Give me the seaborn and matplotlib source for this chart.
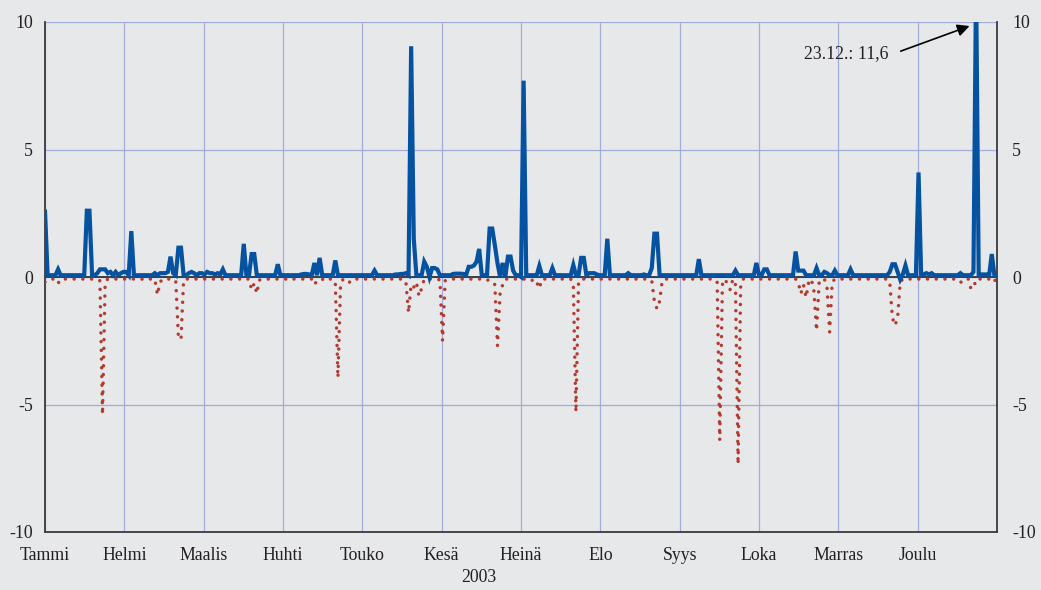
import numpy as np
import pandas as pd
import seaborn as sns
import matplotlib.pyplot as plt

# daily series for 2003 (index 0 = 1 Jan)
n_days = 365
blue_base = 0.07
red_base = -0.08

blue_days = [0, 5, 16, 17, 20, 21, 22, 23, 24, 25, 27, 29, 30, 31, 33, 42, 44, 45, 46, 47, 48, 49,
             51, 52, 55, 56, 57, 59, 60, 61, 62, 63, 64, 65, 66, 67, 68, 76, 79, 80, 89,
             98, 99, 100, 101, 103, 105, 111, 126, 134, 135, 136, 137, 138, 140, 141,
             145, 146, 147, 148, 149, 150, 156, 157, 158, 159, 160, 162, 163, 164, 165, 166,
             170, 171, 172, 173, 174, 175, 176, 177, 178, 179, 182, 183, 189, 194, 202,
             205, 206, 208, 209, 210, 211, 215, 223, 229, 232, 233, 234, 250, 264, 272,
             275, 276, 287, 288, 289, 290, 295, 298, 299, 302, 308, 323, 324, 325, 326,
             327, 328, 329, 334, 336, 337, 338, 339, 350, 355, 356, 358, 359, 360, 362]
blue_vals = [2.6, 0.3, 2.6, 2.6, 0.15, 0.3, 0.3, 0.3, 0.15, 0.2, 0.2, 0.15, 0.2, 0.2, 1.8, 0.15, 0.15, 0.15, 0.15, 0.2, 0.8, 0.15,
             1.15, 1.15, 0.15, 0.2, 0.15, 0.15, 0.15, 0.1, 0.2, 0.15, 0.15, 0.1, 0.15, 0.1, 0.3, 1.3, 0.9, 0.9, 0.5,
             0.1, 0.12, 0.12, 0.1, 0.55, 0.75, 0.65, 0.25, 0.1, 0.1, 0.12, 0.12, 0.15, 9.05, 1.5,
             0.6, 0.4, 0.0, 0.35, 0.35, 0.3, 0.12, 0.13, 0.13, 0.13, 0.12, 0.4, 0.4, 0.45, 0.6, 1.1,
             1.9, 1.9, 1.25, 0.55, 0.0, 0.55, 0.0, 0.8, 0.8, 0.25, 0.0, 7.7, 0.43, 0.35, 0.47,
             0.75, 0.75, 0.15, 0.15, 0.15, 0.1, 1.5, 0.15, 0.1, 0.35, 1.7, 1.7, 0.7, 0.25, 0.55,
             0.3, 0.3, 1.0, 0.25, 0.25, 0.25, 0.35, 0.2, 0.15, 0.25, 0.3, 0.2, 0.5, 0.5, 0.2,
             -0.1, 0.1, 0.45, 4.1, 0.1, 0.15, 0.1, 0.15, 0.15, 0.2, 11.6, 0.1, 0.1, 0.1, 0.9]

red_days = [0, 1, 5, 21, 22, 23, 38, 43, 44, 50, 51, 52, 53, 76, 79, 80, 81, 82, 93, 103, 104,
            107, 111, 112, 113, 116, 117, 138, 139, 140, 141, 142, 143, 144, 151, 152, 153,
            170, 171, 172, 173, 174, 175, 187, 188, 189, 202, 203, 204, 232, 233, 234, 235, 236,
            257, 258, 259, 261, 262, 264, 265, 266, 288, 289, 290, 291, 292, 294, 295, 296,
            299, 300, 301, 323, 324, 325, 326, 327, 350, 351, 354, 355, 362, 363]
red_vals = [-0.2, -0.15, -0.25, -0.15, -5.4, -0.2, -0.12, -0.7, -0.2, -0.15, -2.35, -2.45, -0.12, -0.12, -0.5, -0.25, -0.65, -0.12, -0.12, -0.3, -0.15,
            -0.15, -0.2, -3.95, -0.3, -0.2, -0.2, -0.2, -1.4, -0.3, -0.4, -0.2, -0.75, -0.45, -0.12, -2.5, -0.15,
            -0.2, -0.2, -0.3, -2.7, -0.65, -0.3, -0.25, -0.2, -0.45, -0.3, -5.3, -0.2, -0.15, -0.95, -1.25, -0.95, -0.15,
            -0.2, -6.4, -0.3, -0.3, -0.5, -0.3, -7.35, -0.3, -0.2, -0.65, -0.3, -0.8, -0.2, -0.55, -2.1, -0.2,
            -0.4, -2.15, -0.2, -0.2, -1.6, -1.9, -1.6, -0.2, -0.2, -0.2, -0.45, -0.45, -0.22, -0.15]

months = ['Tammi', 'Helmi', 'Maalis', 'Huhti', 'Touko', 'Kesä', 'Heinä',
          'Elo', 'Syys', 'Loka', 'Marras', 'Joulu']
year_label = '2003'
note = '23.12.: 11,6'

blue = np.full(n_days, blue_base)
blue[blue_days] = blue_vals
red = np.full(n_days, red_base)
red[red_days] = red_vals
df = pd.DataFrame({'day': np.arange(n_days), 'blue': blue, 'red': red})

bg = '#e7e8ea'
grid_c = '#a3acd9'
txt_c = '#231f20'

sns.set_style('white')
plt.rcParams['font.family'] = ['Liberation Serif', 'DejaVu Serif']
plt.rcParams['font.size'] = 12.8

fig = plt.figure(figsize=(10.41, 5.9), dpi=100, facecolor=bg)
ax = fig.add_axes([45 / 1041, 1 - 532 / 590, 952 / 1041, 510 / 590])
ax.set_facecolor(bg)

ax.axhline(0, color='#333333', lw=1.3, zorder=2)
sns.lineplot(data=df, x='day', y='red', ax=ax, color='#b23a2f', lw=2.5,
             linestyle=(0, (0.01, 2.5)), dash_capstyle='round', zorder=3)
sns.lineplot(data=df, x='day', y='blue', ax=ax, color='#0552a0', lw=3.0,
             solid_joinstyle='miter', zorder=4)

x_end = n_days - 1
ax.set_xlim(0, x_end)
ax.set_ylim(-10, 10)
ax.set_xticks(np.linspace(0, x_end, 13))
ax.set_xticklabels(months + [''])
ax.set_yticks([-10, -5, 0, 5, 10])
ax.set_yticklabels(['-10', '-5', '0', '5', '10'])
ax.set_xlabel('')
ax.set_ylabel('')
ax.grid(True, color=grid_c, lw=0.9, zorder=0)
ax.set_axisbelow(True)

for s in ['left', 'right', 'bottom']:
    ax.spines[s].set_color('#3a3a3a')
    ax.spines[s].set_linewidth(1.3)
ax.spines['top'].set_visible(False)

ax.tick_params(axis='x', direction='out', length=3, width=1, color='#3a3a3a',
               pad=8, labelcolor=txt_c)
ax.tick_params(axis='y', length=0, pad=8.5, labelcolor=txt_c)

ax2 = ax.twinx()
ax2.set_ylim(-10, 10)
ax2.set_yticks([-10, -5, 0, 5, 10])
ax2.set_yticklabels(['-10', '-5', '0', '5', '10'])
ax2.tick_params(axis='y', length=0, pad=11, labelcolor=txt_c)
for s in ax2.spines.values():
    s.set_visible(False)

ax.annotate('', xy=(354.5, 9.88), xytext=(326.2, 8.82),
            arrowprops=dict(arrowstyle='-|>', color='black', lw=1.2, mutation_scale=18))
ax.text(322.4, 8.78, note, ha='right', va='center', color=txt_c)

fig.text(479 / 1041, 1 - 578 / 590, year_label, ha='center', va='center', color=txt_c)

fig.savefig('out.png', dpi=100, facecolor=bg)
